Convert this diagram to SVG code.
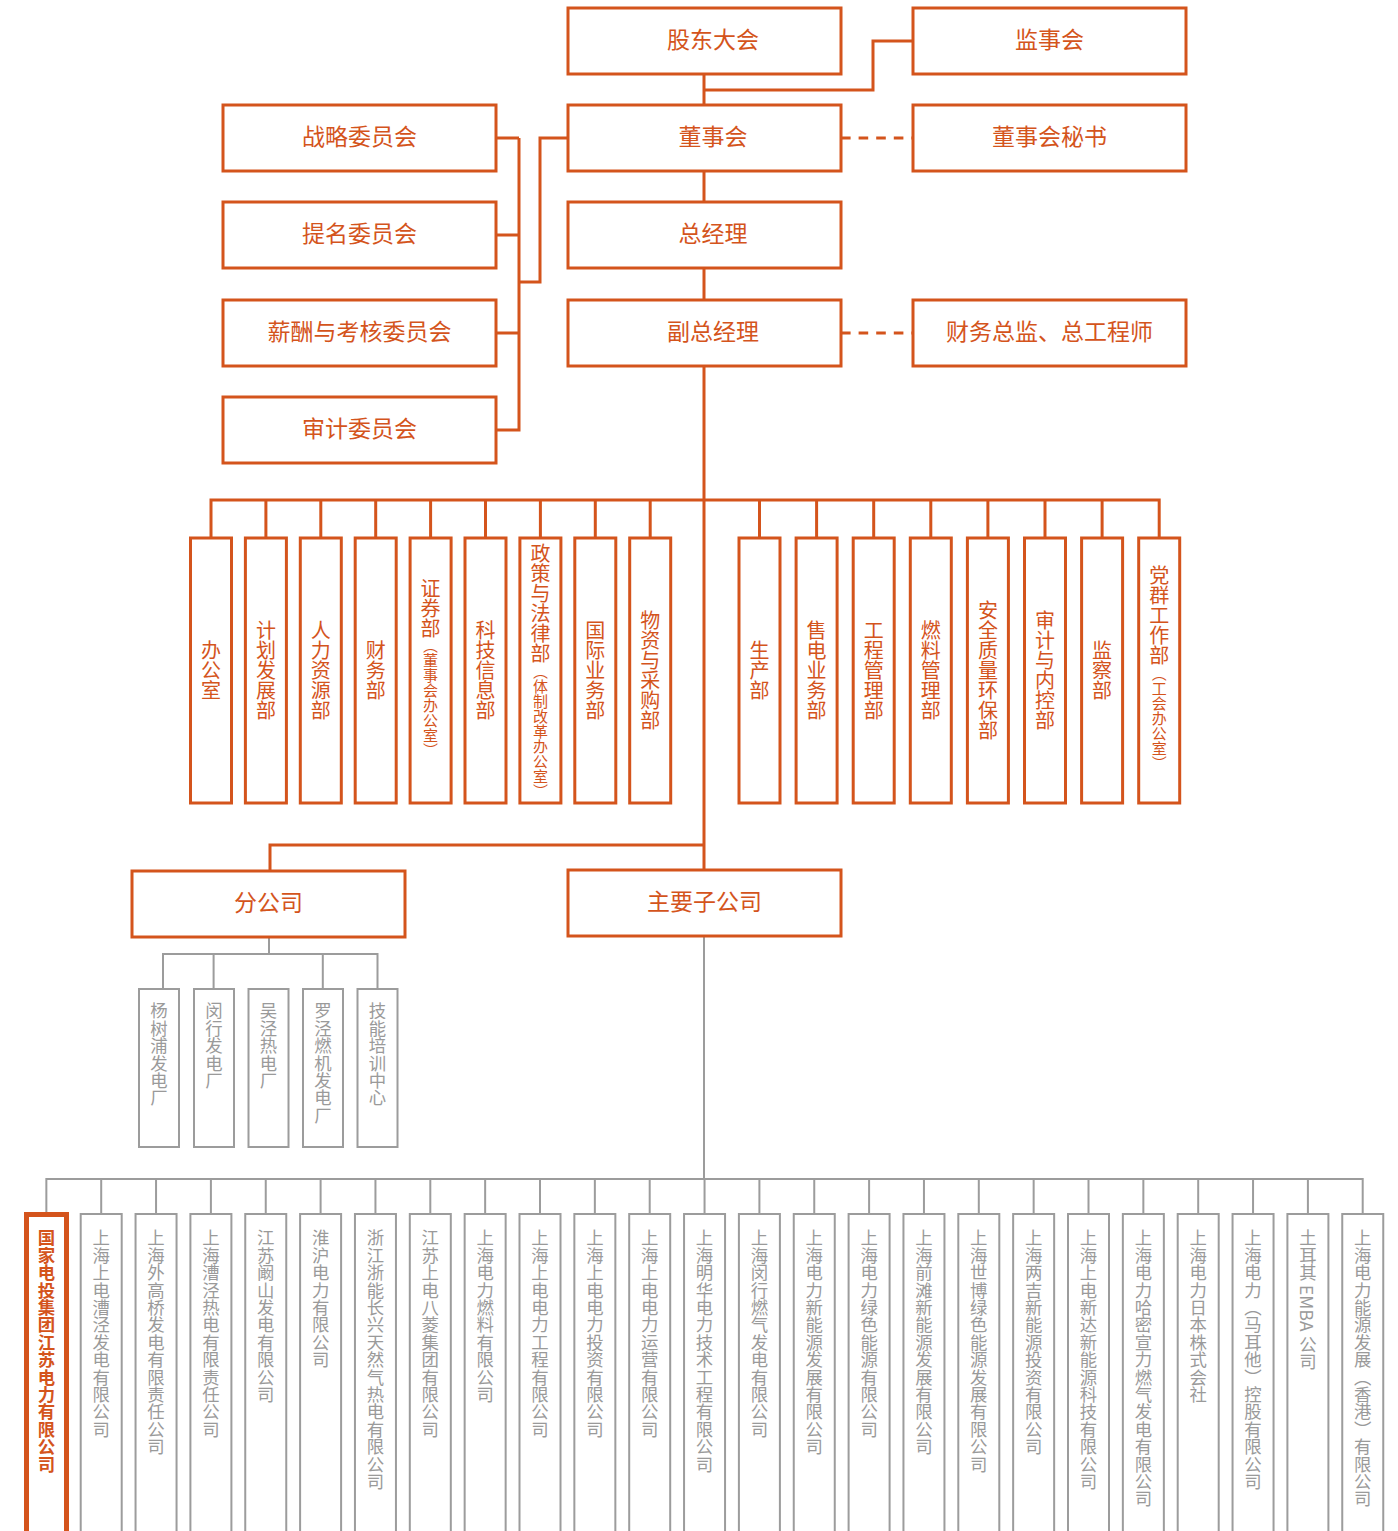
<svg xmlns="http://www.w3.org/2000/svg" width="1398" height="1531" viewBox="0 0 1398 1531">
<style>
  text { font-family: "Noto Sans CJK SC", "Noto Sans", "Liberation Sans", sans-serif; }
  .ob { fill: #fff; stroke: #D4541C; stroke-width: 3; }
  .gb { fill: #fff; stroke: #9C9C9C; stroke-width: 2; }
  .ol { fill: none; stroke: #D4541C; stroke-width: 3; }
  .od { fill: none; stroke: #D4541C; stroke-width: 3; stroke-dasharray: 9.6 8; }
  .gl { fill: none; stroke: #9C9C9C; stroke-width: 2; }
  .ht { fill: #D4541C; font-size: 23px; text-anchor: middle; }
  .vt { fill: #D4541C; font-size: 20px; text-anchor: middle; writing-mode: vertical-rl; }
  .vs { font-size: 15px; }
  .gt { fill: #9A9A9A; font-size: 17.4px; text-anchor: start; writing-mode: vertical-rl; }
  .bt { fill: #D4541C; font-size: 17.4px; font-weight: bold; text-anchor: start; writing-mode: vertical-rl; }
</style>

<g id="connectors">
  <path class="ol" d="M704,74 V105 M704,90 H873 V41 H913 M704,171 V202 M704,268 V300 M704,366 V870"/>
  <path class="od" d="M841,138 H913 M841,333 H913"/>
  <path class="ol" d="M496,138 H519 M496,235 H519 M496,333 H519 M496,430 H519 M519,138 V431.5 M568,138 H540 V282 H519"/>
  <path class="ol" d="M211,538 V500 H1159.2 V538 M265.9,500 V538 M320.8,500 V538 M375.7,500 V538 M430.6,500 V538 M485.5,500 V538 M540.4,500 V538 M595.3,500 V538 M650.2,500 V538 M759.5,500 V538 M816.6,500 V538 M873.7,500 V538 M930.8,500 V538 M987.9,500 V538 M1045,500 V538 M1102.1,500 V538"/>
  <path class="ol" d="M270,871 V845 H704"/>
  <path class="gl" d="M269,937 V954 M163,989 V954 H377.5 V989 M213.6,954 V989 M322.8,954 V989"/>
  <path class="gl" d="M704,937 V1179 M46.35,1212 V1179 H1362.7 V1214 M101.2,1179 V1214 M156.05,1179 V1214 M210.9,1179 V1214 M265.75,1179 V1214 M320.6,1179 V1214 M375.45,1179 V1214 M430.3,1179 V1214 M485.15,1179 V1214 M540,1179 V1214 M594.85,1179 V1214 M649.7,1179 V1214 M704.55,1179 V1214 M759.4,1179 V1214 M814.25,1179 V1214 M869.1,1179 V1214 M923.95,1179 V1214 M978.8,1179 V1214 M1033.65,1179 V1214 M1088.5,1179 V1214 M1143.35,1179 V1214 M1198.2,1179 V1214 M1253.05,1179 V1214 M1307.9,1179 V1214"/>
</g>

<g id="n-gudong"><rect class="ob" x="568" y="8" width="273" height="66"/><text class="ht" x="713" y="48">股东大会</text></g>
<g id="n-jianshi"><rect class="ob" x="913" y="8" width="273" height="66"/><text class="ht" x="1049.5" y="48">监事会</text></g>
<g id="n-dongshi"><rect class="ob" x="568" y="105" width="273" height="66"/><text class="ht" x="713" y="145">董事会</text></g>
<g id="n-mishu"><rect class="ob" x="913" y="105" width="273" height="66"/><text class="ht" x="1049.5" y="145">董事会秘书</text></g>
<g id="n-zongjingli"><rect class="ob" x="568" y="202" width="273" height="66"/><text class="ht" x="713" y="242">总经理</text></g>
<g id="n-fuzong"><rect class="ob" x="568" y="300" width="273" height="66"/><text class="ht" x="713" y="340">副总经理</text></g>
<g id="n-caiwu"><rect class="ob" x="913" y="300" width="273" height="66"/><text class="ht" x="1049.5" y="340">财务总监、总工程师</text></g>
<g id="n-zhanlue"><rect class="ob" x="223" y="105" width="273" height="66"/><text class="ht" x="359.5" y="145">战略委员会</text></g>
<g id="n-timing"><rect class="ob" x="223" y="202" width="273" height="66"/><text class="ht" x="359.5" y="242">提名委员会</text></g>
<g id="n-xinchou"><rect class="ob" x="223" y="300" width="273" height="66"/><text class="ht" x="359.5" y="340">薪酬与考核委员会</text></g>
<g id="n-shenji"><rect class="ob" x="223" y="397" width="273" height="66"/><text class="ht" x="359.5" y="437">审计委员会</text></g>

<g id="d1"><rect class="ob" x="190.5" y="538" width="41" height="265"/><text class="vt" x="211" y="670">办公室</text></g>
<g id="d2"><rect class="ob" x="245.4" y="538" width="41" height="265"/><text class="vt" x="265.9" y="670">计划发展部</text></g>
<g id="d3"><rect class="ob" x="300.3" y="538" width="41" height="265"/><text class="vt" x="320.8" y="670">人力资源部</text></g>
<g id="d4"><rect class="ob" x="355.2" y="538" width="41" height="265"/><text class="vt" x="375.7" y="670">财务部</text></g>
<g id="d5"><rect class="ob" x="410.1" y="538" width="41" height="265"/><text class="vt" x="430.6" y="668">证券部<tspan class="vs">（董事会办公室）</tspan></text></g>
<g id="d6"><rect class="ob" x="465" y="538" width="41" height="265"/><text class="vt" x="485.5" y="670">科技信息部</text></g>
<g id="d7"><rect class="ob" x="519.9" y="538" width="41" height="265"/><text class="vt" x="540.4" y="671">政策与法律部<tspan class="vs">（体制改革办公室）</tspan></text></g>
<g id="d8"><rect class="ob" x="574.8" y="538" width="41" height="265"/><text class="vt" x="595.3" y="670">国际业务部</text></g>
<g id="d9"><rect class="ob" x="629.7" y="538" width="41" height="265"/><text class="vt" x="650.2" y="670">物资与采购部</text></g>
<g id="d10"><rect class="ob" x="739" y="538" width="41" height="265"/><text class="vt" x="759.5" y="670">生产部</text></g>
<g id="d11"><rect class="ob" x="796.1" y="538" width="41" height="265"/><text class="vt" x="816.6" y="670">售电业务部</text></g>
<g id="d12"><rect class="ob" x="853.2" y="538" width="41" height="265"/><text class="vt" x="873.7" y="670">工程管理部</text></g>
<g id="d13"><rect class="ob" x="910.3" y="538" width="41" height="265"/><text class="vt" x="930.8" y="670">燃料管理部</text></g>
<g id="d14"><rect class="ob" x="967.4" y="538" width="41" height="265"/><text class="vt" x="987.9" y="670">安全质量环保部</text></g>
<g id="d15"><rect class="ob" x="1024.5" y="538" width="41" height="265"/><text class="vt" x="1045" y="670">审计与内控部</text></g>
<g id="d16"><rect class="ob" x="1081.6" y="538" width="41" height="265"/><text class="vt" x="1102.1" y="670">监察部</text></g>
<g id="d17"><rect class="ob" x="1138.7" y="538" width="41" height="265"/><text class="vt" x="1159.2" y="668">党群工作部<tspan class="vs">（工会办公室）</tspan></text></g>

<g id="n-fengongsi"><rect class="ob" x="132" y="871" width="273" height="66"/><text class="ht" x="268.5" y="911">分公司</text></g>
<g id="n-zigongsi"><rect class="ob" x="568" y="870" width="273" height="66"/><text class="ht" x="704.5" y="910">主要子公司</text></g>

<g id="b1"><rect class="gb" x="139" y="989" width="40" height="158"/><text class="gt" x="159" y="1002">杨树浦发电厂</text></g>
<g id="b2"><rect class="gb" x="194" y="989" width="40" height="158"/><text class="gt" x="214" y="1002">闵行发电厂</text></g>
<g id="b3"><rect class="gb" x="248.5" y="989" width="40" height="158"/><text class="gt" x="268.5" y="1002">吴泾热电厂</text></g>
<g id="b4"><rect class="gb" x="303" y="989" width="40" height="158"/><text class="gt" x="323" y="1002">罗泾燃机发电厂</text></g>
<g id="b5"><rect class="gb" x="357.5" y="989" width="40" height="158"/><text class="gt" x="377.5" y="1002">技能培训中心</text></g>

<g id="s0"><rect x="26.5" y="1214.5" width="40" height="330" fill="#fff" stroke="#D4541C" stroke-width="5"/><text class="bt" x="46.5" y="1229">国家电投集团江苏电力有限公司</text></g>
<g id="s1"><rect class="gb" x="80.7" y="1214" width="41" height="330"/><text class="gt" x="101.2" y="1229">上海上电漕泾发电有限公司</text></g>
<g id="s2"><rect class="gb" x="135.55" y="1214" width="41" height="330"/><text class="gt" x="156.05" y="1229">上海外高桥发电有限责任公司</text></g>
<g id="s3"><rect class="gb" x="190.4" y="1214" width="41" height="330"/><text class="gt" x="210.9" y="1229">上海漕泾热电有限责任公司</text></g>
<g id="s4"><rect class="gb" x="245.25" y="1214" width="41" height="330"/><text class="gt" x="265.75" y="1229">江苏阚山发电有限公司</text></g>
<g id="s5"><rect class="gb" x="300.1" y="1214" width="41" height="330"/><text class="gt" x="320.6" y="1229">淮沪电力有限公司</text></g>
<g id="s6"><rect class="gb" x="354.95" y="1214" width="41" height="330"/><text class="gt" x="375.45" y="1229">浙江浙能长兴天然气热电有限公司</text></g>
<g id="s7"><rect class="gb" x="409.8" y="1214" width="41" height="330"/><text class="gt" x="430.3" y="1229">江苏上电八菱集团有限公司</text></g>
<g id="s8"><rect class="gb" x="464.65" y="1214" width="41" height="330"/><text class="gt" x="485.15" y="1229">上海电力燃料有限公司</text></g>
<g id="s9"><rect class="gb" x="519.5" y="1214" width="41" height="330"/><text class="gt" x="540" y="1229">上海上电电力工程有限公司</text></g>
<g id="s10"><rect class="gb" x="574.35" y="1214" width="41" height="330"/><text class="gt" x="594.85" y="1229">上海上电电力投资有限公司</text></g>
<g id="s11"><rect class="gb" x="629.2" y="1214" width="41" height="330"/><text class="gt" x="649.7" y="1229">上海上电电力运营有限公司</text></g>
<g id="s12"><rect class="gb" x="684.05" y="1214" width="41" height="330"/><text class="gt" x="704.55" y="1229">上海明华电力技术工程有限公司</text></g>
<g id="s13"><rect class="gb" x="738.9" y="1214" width="41" height="330"/><text class="gt" x="759.4" y="1229">上海闵行燃气发电有限公司</text></g>
<g id="s14"><rect class="gb" x="793.75" y="1214" width="41" height="330"/><text class="gt" x="814.25" y="1229">上海电力新能源发展有限公司</text></g>
<g id="s15"><rect class="gb" x="848.6" y="1214" width="41" height="330"/><text class="gt" x="869.1" y="1229">上海电力绿色能源有限公司</text></g>
<g id="s16"><rect class="gb" x="903.45" y="1214" width="41" height="330"/><text class="gt" x="923.95" y="1229">上海前滩新能源发展有限公司</text></g>
<g id="s17"><rect class="gb" x="958.3" y="1214" width="41" height="330"/><text class="gt" x="978.8" y="1229">上海世博绿色能源发展有限公司</text></g>
<g id="s18"><rect class="gb" x="1013.15" y="1214" width="41" height="330"/><text class="gt" x="1033.65" y="1229">上海两吉新能源投资有限公司</text></g>
<g id="s19"><rect class="gb" x="1068" y="1214" width="41" height="330"/><text class="gt" x="1088.5" y="1229">上海上电新达新能源科技有限公司</text></g>
<g id="s20"><rect class="gb" x="1122.85" y="1214" width="41" height="330"/><text class="gt" x="1143.35" y="1229">上海电力哈密宣力燃气发电有限公司</text></g>
<g id="s21"><rect class="gb" x="1177.7" y="1214" width="41" height="330"/><text class="gt" x="1198.2" y="1229">上海电力日本株式会社</text></g>
<g id="s22"><rect class="gb" x="1232.55" y="1214" width="41" height="330"/><text class="gt" x="1253.05" y="1229">上海电力（马耳他）控股有限公司</text></g>
<g id="s23"><rect class="gb" x="1287.4" y="1214" width="41" height="330"/><text class="gt" x="1307.9" y="1229">土耳其 EMBA 公司</text></g>
<g id="s24"><rect class="gb" x="1342.25" y="1214" width="41" height="330"/><text class="gt" x="1362.75" y="1229">上海电力能源发展（香港）有限公司</text></g>
</svg>
